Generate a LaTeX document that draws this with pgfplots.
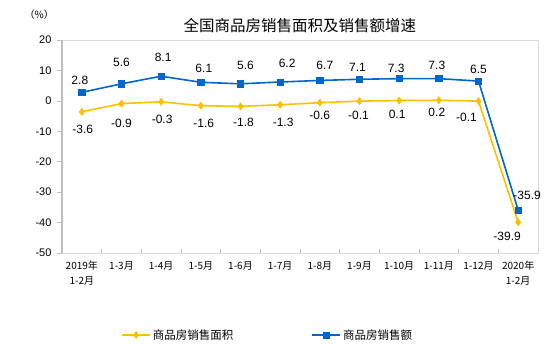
\documentclass[border=0pt]{standalone}
\usepackage{pgfplots}
\usepackage{pgfplotstable}
\pgfplotsset{compat=1.18}
\usepackage{fontspec}
\setmainfont{Liberation Sans}
\newfontfamily\cjk{Noto Sans CJK SC}
\definecolor{myblue}{RGB}{0,102,204}
\definecolor{myyellow}{RGB}{255,192,0}
\definecolor{frame}{RGB}{217,217,217}
\definecolor{axisgray}{RGB}{191,191,191}

\pgfplotstableread{
x y dx dy lab
0 -3.6 1 -18 -3.6
1 -0.9 0 -20 -0.9
2 -0.3 1 -18 -0.3
3 -1.6 3 -18 -1.6
4 -1.8 3 -16 -1.8
5 -1.3 3 -18 -1.3
6 -0.6 0 -13 -0.6
7 -0.1 -1 -14 -0.1
8 0.1 -2 -14 0.1
9 0.2 -2 -12 0.2
10 -0.1 -12 -16 -0.1
11 -39.9 -11 -14 -39.9
}\areatab

\pgfplotstableread{
x y dx dy lab
0 2.8 -2 12 2.8
1 5.6 0 21 5.6
2 8.1 2 19 8.1
3 6.1 3 14 6.1
4 5.6 5 18 5.6
5 6.2 7 19 6.2
6 6.7 5 15 6.7
7 7.1 -2 12 7.1
8 7.3 -3 10 7.3
9 7.3 -2 13 7.3
10 6.5 0 12 6.5
11 -35.9 9 15 -35.9
}\amounttab

\begin{document}
\begin{tikzpicture}
\useasboundingbox (0,0) rectangle (550pt,355pt);
\begin{axis}[
  at={(62pt,102pt)}, anchor=south west,
  scale only axis, width=476pt, height=213pt,
  xmin=-0.5, xmax=11.5, ymin=-50, ymax=20,
  clip=false,
  axis line style={draw=frame, line width=0.8pt},
  xtick={0,...,11},
  xticklabels={{2019年\\1-2月},{1-3月},{1-4月},{1-5月},{1-6月},{1-7月},{1-8月},{1-9月},{1-10月},{1-11月},{1-12月},{2020年\\1-2月}},
  xticklabel style={font=\cjk\fontsize{10}{15}\selectfont, align=center, anchor=north, yshift=-5pt},
  major x tick style={draw=none},
  minor xtick={0.5,1.5,...,10.5},
  minor tick length=4pt,
  minor x tick style={draw=axisgray, line width=0.6pt},
  xtick pos=left, ytick pos=left,
  ytick={-50,-40,...,20},
  yticklabels={{-50},{-40},{-30},{-20},{-10},0,10,20},
  ytick align=outside,
  major tick length=5pt,
  major y tick style={draw=axisgray, line width=0.6pt},
  yticklabel style={font=\fontsize{11}{13}\selectfont, anchor=east, xshift=-2pt},
  legend style={at={(0.118,-0.385)}, anchor=west, draw=none, fill=none,
    font=\cjk\fontsize{11.5}{13}\selectfont,
    /tikz/every even column/.append style={column sep=76pt}},
  legend columns=2,
  legend cell align=left,
  legend image code/.code={\draw[mark repeat=2,mark phase=2,#1] plot coordinates {(0pt,0pt)(14pt,0pt)(28pt,0pt)};},
  every node near coord/.append style={anchor=center, text=black, font=\fontsize{12}{14}\selectfont, xshift=\mydx pt, yshift=\mydy pt},
]
\draw[axisgray, line width=1.6pt] (rel axis cs:0,0) -- (rel axis cs:0,1);
\addplot[color=myyellow, line width=1.6pt, mark=diamond*, mark size=3.6pt, mark options={fill=myyellow, draw=myyellow, line width=0.5pt},
  nodes near coords, point meta=explicit symbolic,
  visualization depends on={\thisrow{dx}\as\mydx},
  visualization depends on={\thisrow{dy}\as\mydy}]
  table[x=x, y=y, meta=lab] {\areatab};
\addlegendentry{商品房销售面积}
\addplot[color=myblue, line width=1.6pt, mark=square*, mark size=3.1pt, mark options={fill=myblue, draw=myblue, line width=0.5pt},
  nodes near coords, point meta=explicit symbolic,
  visualization depends on={\thisrow{dx}\as\mydx},
  visualization depends on={\thisrow{dy}\as\mydy}]
  table[x=x, y=y, meta=lab] {\amounttab};
\addlegendentry{商品房销售额}
\node[font=\cjk\fontsize{15.5}{17}\selectfont, anchor=center] at (rel axis cs:0.5,1.07) {全国商品房销售面积及销售额增速};
\node[font=\cjk\fontsize{10}{12}\selectfont, anchor=center] at (rel axis cs:-0.048,1.117) {（\%）};
\end{axis}
\end{tikzpicture}
\end{document}
